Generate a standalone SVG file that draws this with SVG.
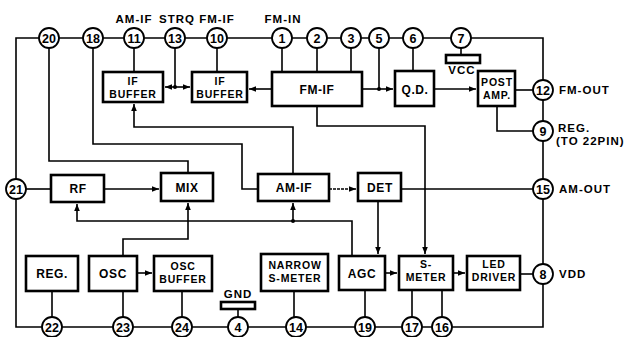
<svg xmlns="http://www.w3.org/2000/svg" width="628" height="337" viewBox="0 0 628 337">
<style>
.bx{fill:#fff;stroke:#000;stroke-width:2.6}
.ln{fill:none;stroke:#000;stroke-width:1.6}
.pin circle{fill:#fff;stroke:#000;stroke-width:1.8}
text{font-family:"Liberation Sans",Arial,sans-serif;font-weight:bold;fill:#000}
.pn{font-size:12.5px;text-anchor:middle}
.bt{font-size:12px;text-anchor:middle;letter-spacing:0.6px}
.b2{font-size:10.5px;text-anchor:middle;letter-spacing:0.8px}
.lb{font-size:11.5px;letter-spacing:1px}
.lc{font-size:11.5px;letter-spacing:1px;text-anchor:middle}
</style>
<defs>
<marker id="ah" viewBox="0 0 10 10" refX="10" refY="5" markerWidth="7" markerHeight="7" markerUnits="userSpaceOnUse" orient="auto-start-reverse">
<path d="M0,1 L10,5 L0,9 z" fill="#000"/>
</marker>
</defs>
<g id="connectors">
<path class="ln" d="M16,38 H543 V327 H16 Z" stroke-width="2"/>
<path class="ln" d="M49,38 V161 H188 V173"/>
<path class="ln" d="M93,38 V144 H242 V189 H258"/>
<path class="ln" d="M134,38 V72"/>
<path class="ln" d="M175,38 V87"/>
<path class="ln" d="M165,87 H190" marker-start="url(#ah)" marker-end="url(#ah)"/>
<circle cx="175" cy="87" r="2" fill="#000"/>
<path class="ln" d="M217,38 V72"/>
<path class="ln" d="M282,38 V72 M317,38 V72 M351,38 V72"/>
<path class="ln" d="M272,89 H249" marker-end="url(#ah)"/>
<path class="ln" d="M362,89 H393" marker-end="url(#ah)"/>
<path class="ln" d="M379,38 V89"/>
<circle cx="379" cy="89" r="2" fill="#000"/>
<path class="ln" d="M413,38 V71"/>
<path class="ln" d="M434,89 H476" marker-end="url(#ah)"/>
<path class="ln" d="M515,90 H533"/>
<path class="ln" d="M497,106 V131 H533"/>
<path class="ln" d="M461,48 V55"/>
<path class="ln" d="M293,174 V127 H134 V104" marker-end="url(#ah)"/>
<path class="ln" d="M317,106 V126 H425 V254" marker-end="url(#ah)"/>
<path class="ln" d="M26,189 H51"/>
<path class="ln" d="M104,189 H159" marker-end="url(#ah)"/>
<path class="ln" d="M329,189 H356" marker-end="url(#ah)" stroke-width="1.2" stroke-dasharray="3 1"/>
<path class="ln" d="M401,189 H533"/>
<path class="ln" d="M378,201 V254" marker-end="url(#ah)"/>
<path class="ln" d="M352,256 V221 H77 V204" marker-end="url(#ah)"/>
<path class="ln" d="M293,221 V203" marker-end="url(#ah)"/>
<circle cx="293" cy="221" r="2" fill="#000"/>
<path class="ln" d="M123,256 V239 H188 V203" marker-end="url(#ah)"/>
<path class="ln" d="M137,273 H152" marker-end="url(#ah)"/>
<path class="ln" d="M385,273 H397" marker-end="url(#ah)"/>
<path class="ln" d="M453,273 H465" marker-end="url(#ah)"/>
<path class="ln" d="M520,274 H533"/>
<path class="ln" d="M52,291 V317 M123,291 V317 M182,291 V317 M294,291 V317 M365,290 V317 M412,290 V317 M442,290 V317"/>
<path class="ln" d="M238,309 V317"/>
</g>
<g id="vcc"><rect class="bx" x="446" y="55" width="34" height="8" stroke-width="2"/><text class="lc" x="462" y="74">VCC</text></g>
<g id="gnd"><rect class="bx" x="221" y="302" width="34" height="7" stroke-width="2"/><text class="lc" x="238" y="298">GND</text></g>
<g id="if_buffer1"><rect class="bx" x="103" y="72" width="60" height="30"/><text class="b2" x="133" y="85">IF</text><text class="b2" x="133" y="97.5">BUFFER</text></g>
<g id="if_buffer2"><rect class="bx" x="192" y="72" width="55" height="30"/><text class="b2" x="220" y="85">IF</text><text class="b2" x="220" y="97.5">BUFFER</text></g>
<g id="fm_if"><rect class="bx" x="272" y="72" width="90" height="34"/><text class="bt" x="317" y="94" letter-spacing="2">FM-IF</text></g>
<g id="qd"><rect class="bx" x="395" y="71" width="39" height="35"/><text class="bt" x="415" y="94" letter-spacing="2">Q.D.</text></g>
<g id="post_amp"><rect class="bx" x="478" y="71" width="37" height="35"/><text class="b2" x="497" y="86">POST</text><text class="b2" x="497" y="99">AMP.</text></g>
<g id="rf"><rect class="bx" x="51" y="175" width="53" height="27"/><text class="bt" x="78" y="193">RF</text></g>
<g id="mix"><rect class="bx" x="161" y="173" width="52" height="28"/><text class="bt" x="187" y="192">MIX</text></g>
<g id="am_if"><rect class="bx" x="258" y="174" width="71" height="27"/><text class="bt" x="294" y="192" letter-spacing="1.5">AM-IF</text></g>
<g id="det"><rect class="bx" x="358" y="173" width="43" height="28"/><text class="bt" x="380" y="192">DET</text></g>
<g id="reg"><rect class="bx" x="26" y="256" width="52" height="35"/><text class="bt" x="52" y="278">REG.</text></g>
<g id="osc"><rect class="bx" x="89" y="256" width="48" height="35"/><text class="bt" x="113" y="278">OSC</text></g>
<g id="osc_buffer"><rect class="bx" x="154" y="256" width="58" height="35"/><text class="b2" x="183" y="270">OSC</text><text class="b2" x="183" y="283">BUFFER</text></g>
<g id="narrow_s_meter"><rect class="bx" x="261" y="254" width="67" height="37"/><text class="b2" x="295" y="269">NARROW</text><text class="b2" x="295" y="282">S-METER</text></g>
<g id="agc"><rect class="bx" x="339" y="256" width="46" height="34"/><text class="bt" x="362" y="278">AGC</text></g>
<g id="s_meter"><rect class="bx" x="399" y="256" width="54" height="34"/><text class="b2" x="426" y="268">S-</text><text class="b2" x="426" y="281">METER</text></g>
<g id="led_driver"><rect class="bx" x="467" y="256" width="53" height="34"/><text class="b2" x="494" y="268">LED</text><text class="b2" x="494" y="281">DRIVER</text></g>
<g id="pins">
<g class="pin" id="pin20"><circle cx="49" cy="38" r="10"/><text class="pn" x="49" y="42.5">20</text></g>
<g class="pin" id="pin18"><circle cx="93" cy="38" r="10"/><text class="pn" x="93" y="42.5">18</text></g>
<g class="pin" id="pin11"><circle cx="134" cy="38" r="10"/><text class="pn" x="134" y="42.5">11</text></g>
<g class="pin" id="pin13"><circle cx="175" cy="38" r="10"/><text class="pn" x="175" y="42.5">13</text></g>
<g class="pin" id="pin10"><circle cx="217" cy="38" r="10"/><text class="pn" x="217" y="42.5">10</text></g>
<g class="pin" id="pin1"><circle cx="282" cy="38" r="10"/><text class="pn" x="282" y="42.5">1</text></g>
<g class="pin" id="pin2"><circle cx="317" cy="38" r="10"/><text class="pn" x="317" y="42.5">2</text></g>
<g class="pin" id="pin3"><circle cx="351" cy="38" r="10"/><text class="pn" x="351" y="42.5">3</text></g>
<g class="pin" id="pin5"><circle cx="379" cy="38" r="10"/><text class="pn" x="379" y="42.5">5</text></g>
<g class="pin" id="pin6"><circle cx="413" cy="38" r="10"/><text class="pn" x="413" y="42.5">6</text></g>
<g class="pin" id="pin7"><circle cx="461" cy="38" r="10"/><text class="pn" x="461" y="42.5">7</text></g>
<g class="pin" id="pin12"><circle cx="543" cy="90" r="10"/><text class="pn" x="543" y="94.5">12</text></g>
<g class="pin" id="pin9"><circle cx="543" cy="131" r="10"/><text class="pn" x="543" y="135.5">9</text></g>
<g class="pin" id="pin15"><circle cx="543" cy="189" r="10"/><text class="pn" x="543" y="193.5">15</text></g>
<g class="pin" id="pin8"><circle cx="543" cy="274" r="10"/><text class="pn" x="543" y="278.5">8</text></g>
<g class="pin" id="pin21"><circle cx="16" cy="189" r="10"/><text class="pn" x="16" y="193.5">21</text></g>
<g class="pin" id="pin22"><circle cx="52" cy="327" r="10"/><text class="pn" x="52" y="331.5">22</text></g>
<g class="pin" id="pin23"><circle cx="123" cy="327" r="10"/><text class="pn" x="123" y="331.5">23</text></g>
<g class="pin" id="pin24"><circle cx="182" cy="327" r="10"/><text class="pn" x="182" y="331.5">24</text></g>
<g class="pin" id="pin4"><circle cx="238" cy="327" r="10"/><text class="pn" x="238" y="331.5">4</text></g>
<g class="pin" id="pin14"><circle cx="296" cy="327" r="10"/><text class="pn" x="296" y="331.5">14</text></g>
<g class="pin" id="pin19"><circle cx="365" cy="327" r="10"/><text class="pn" x="365" y="331.5">19</text></g>
<g class="pin" id="pin17"><circle cx="412" cy="327" r="10"/><text class="pn" x="412" y="331.5">17</text></g>
<g class="pin" id="pin16"><circle cx="442" cy="327" r="10"/><text class="pn" x="442" y="331.5">16</text></g>
</g>
<g id="labels">
<text class="lc" x="134" y="23">AM-IF</text>
<text class="lc" x="177" y="23">STRQ</text>
<text class="lc" x="217" y="23">FM-IF</text>
<text class="lc" x="283" y="23">FM-IN</text>
<text class="lb" x="559" y="94">FM-OUT</text>
<text class="lb" x="558" y="132">REG.</text>
<text class="lb" x="556" y="145" letter-spacing="0.3">(TO 22PIN)</text>
<text class="lb" x="559" y="193">AM-OUT</text>
<text class="lb" x="559" y="278">VDD</text>
</g>
</svg>
